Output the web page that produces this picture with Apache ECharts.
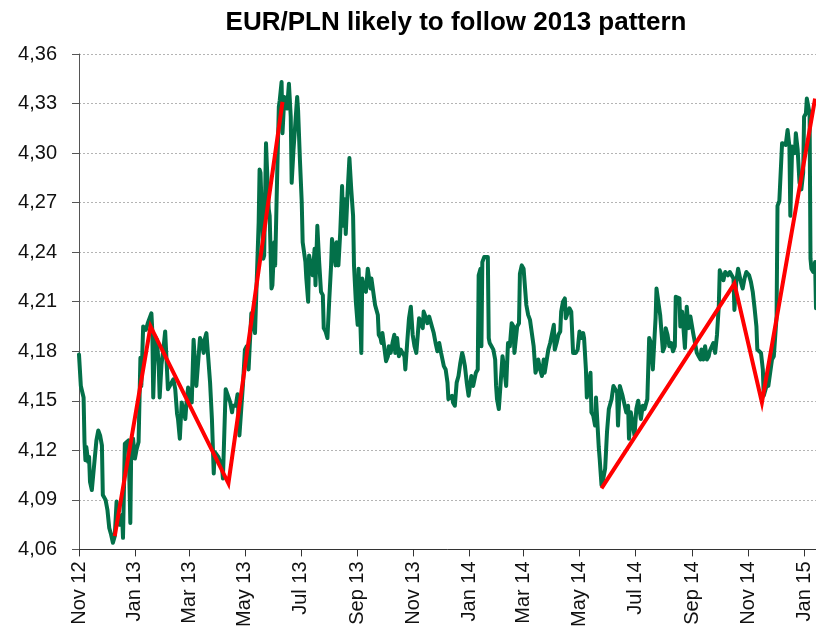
<!DOCTYPE html>
<html>
<head>
<meta charset="utf-8">
<script src="https://cdn.jsdelivr.net/npm/echarts@6/dist/echarts.min.js"></script>
<style>
  html, body { margin: 0; padding: 0; background: #fff; }
  #chart { width: 816px; height: 630px; }
</style>
</head>
<body>
<div id="chart"></div>
<script>
// EUR/PLN daily fixing, Nov 2012 - Jan 2015
const eurpln = [
  ['2012-11-01',4.178],['2012-11-03',4.159],['2012-11-06',4.152],['2012-11-07',4.125],['2012-11-08',4.114],
  ['2012-11-09',4.122],['2012-11-11',4.113],['2012-11-12',4.116],['2012-11-13',4.101],['2012-11-15',4.096],
  ['2012-11-17',4.108],['2012-11-19',4.107],['2012-11-20',4.126],['2012-11-22',4.132],['2012-11-24',4.129],
  ['2012-11-26',4.123],['2012-11-27',4.093],['2012-11-30',4.090],['2012-12-02',4.084],['2012-12-04',4.073],
  ['2012-12-06',4.069],['2012-12-08',4.064],['2012-12-10',4.068],['2012-12-12',4.089],['2012-12-13',4.089],
  ['2012-12-15',4.075],['2012-12-18',4.081],['2012-12-19',4.067],['2012-12-21',4.124],['2012-12-23',4.125],
  ['2012-12-25',4.126],['2012-12-27',4.076],['2012-12-28',4.122],['2012-12-30',4.127],
  ['2013-01-01',4.115],['2013-01-03',4.121],['2013-01-05',4.125],['2013-01-07',4.176],['2013-01-08',4.159],
  ['2013-01-10',4.195],['2013-01-11',4.194],['2013-01-13',4.193],['2013-01-15',4.197],['2013-01-16',4.198],
  ['2013-01-19',4.203],['2013-01-20',4.192],['2013-01-21',4.152],['2013-01-23',4.189],['2013-01-25',4.187],
  ['2013-01-27',4.171],['2013-01-28',4.152],['2013-01-30',4.172],['2013-02-01',4.181],['2013-02-03',4.192],
  ['2013-02-05',4.193],['2013-02-06',4.157],['2013-02-08',4.159],['2013-02-10',4.158],['2013-02-12',4.163],
  ['2013-02-14',4.157],['2013-02-16',4.142],['2013-02-17',4.139],['2013-02-19',4.127],['2013-02-21',4.149],
  ['2013-02-23',4.149],['2013-02-25',4.139],['2013-02-26',4.147],['2013-02-28',4.158],['2013-03-02',4.152],
  ['2013-03-04',4.149],['2013-03-06',4.187],['2013-03-08',4.187],['2013-03-09',4.159],['2013-03-11',4.158],
  ['2013-03-13',4.188],['2013-03-15',4.185],['2013-03-17',4.179],['2013-03-18',4.187],['2013-03-20',4.191],
  ['2013-03-22',4.191],['2013-03-24',4.161],['2013-03-26',4.139],['2013-03-28',4.106],['2013-03-29',4.119],
  ['2013-03-31',4.118],['2013-04-02',4.116],['2013-04-04',4.113],['2013-04-06',4.110],['2013-04-07',4.103],
  ['2013-04-09',4.102],['2013-04-10',4.157],['2013-04-12',4.158],['2013-04-15',4.149],['2013-04-17',4.143],
  ['2013-04-18',4.147],['2013-04-21',4.147],['2013-04-23',4.154],['2013-04-25',4.129],['2013-04-26',4.129],
  ['2013-04-29',4.161],['2013-05-01',4.181],['2013-05-03',4.183],['2013-05-05',4.169],['2013-05-07',4.168],
  ['2013-05-08',4.203],['2013-05-10',4.202],['2013-05-12',4.191],['2013-05-14',4.191],['2013-05-16',4.258],
  ['2013-05-17',4.290],['2013-05-18',4.288],['2013-05-20',4.254],['2013-05-21',4.236],['2013-05-22',4.238],
  ['2013-05-24',4.306],['2013-05-25',4.292],['2013-05-27',4.266],['2013-05-28',4.262],['2013-05-30',4.218],
  ['2013-05-31',4.220],['2013-06-02',4.246],['2013-06-03',4.232],['2013-06-05',4.282],['2013-06-07',4.328],
  ['2013-06-08',4.332],['2013-06-10',4.343],['2013-06-11',4.312],['2013-06-13',4.334],['2013-06-14',4.333],
  ['2013-06-16',4.327],['2013-06-17',4.326],['2013-06-18',4.342],['2013-06-20',4.322],['2013-06-21',4.282],
  ['2013-06-23',4.302],['2013-06-25',4.318],['2013-06-27',4.334],['2013-06-28',4.326],['2013-06-30',4.296],
  ['2013-07-02',4.270],['2013-07-03',4.246],['2013-07-05',4.245],['2013-07-06',4.234],['2013-07-07',4.224],
  ['2013-07-09',4.210],['2013-07-10',4.238],['2013-07-12',4.238],['2013-07-14',4.226],['2013-07-16',4.242],
  ['2013-07-17',4.220],['2013-07-19',4.256],['2013-07-21',4.234],['2013-07-23',4.216],['2013-07-25',4.214],
  ['2013-07-26',4.194],['2013-07-28',4.192],['2013-07-30',4.188],['2013-08-01',4.211],['2013-08-03',4.232],
  ['2013-08-04',4.248],['2013-08-06',4.247],['2013-08-08',4.232],['2013-08-09',4.246],['2013-08-11',4.232],
  ['2013-08-13',4.252],['2013-08-15',4.280],['2013-08-16',4.256],['2013-08-18',4.272],['2013-08-19',4.251],
  ['2013-08-21',4.276],['2013-08-23',4.297],['2013-08-25',4.278],['2013-08-27',4.262],['2013-08-28',4.232],
  ['2013-08-30',4.210],['2013-09-01',4.196],['2013-09-02',4.230],['2013-09-04',4.230],['2013-09-05',4.179],
  ['2013-09-06',4.224],['2013-09-08',4.218],['2013-09-10',4.216],['2013-09-12',4.230],['2013-09-13',4.231],
  ['2013-09-15',4.218],['2013-09-16',4.224],['2013-09-18',4.223],['2013-09-20',4.208],['2013-09-22',4.208],
  ['2013-09-23',4.202],['2013-09-24',4.190],['2013-09-26',4.188],['2013-09-27',4.185],['2013-09-28',4.191],
  ['2013-09-30',4.191],['2013-10-02',4.174],['2013-10-04',4.177],['2013-10-05',4.183],['2013-10-07',4.179],
  ['2013-10-09',4.185],['2013-10-11',4.190],['2013-10-12',4.179],['2013-10-14',4.188],['2013-10-15',4.188],
  ['2013-10-16',4.177],['2013-10-18',4.181],['2013-10-20',4.181],['2013-10-22',4.177],['2013-10-23',4.169],
  ['2013-10-25',4.185],['2013-10-27',4.200],['2013-10-29',4.207],['2013-10-31',4.190],['2013-11-02',4.183],
  ['2013-11-04',4.179],['2013-11-05',4.178],['2013-11-07',4.200],['2013-11-09',4.200],['2013-11-11',4.194],
  ['2013-11-12',4.204],['2013-11-14',4.201],['2013-11-16',4.197],['2013-11-18',4.201],['2013-11-20',4.201],
  ['2013-11-21',4.195],['2013-11-23',4.191],['2013-11-25',4.185],['2013-11-27',4.180],['2013-11-29',4.185],
  ['2013-12-01',4.179],['2013-12-02',4.180],['2013-12-04',4.171],['2013-12-06',4.169],['2013-12-08',4.161],
  ['2013-12-09',4.151],['2013-12-11',4.151],['2013-12-13',4.153],['2013-12-14',4.149],['2013-12-16',4.147],
  ['2013-12-18',4.161],['2013-12-20',4.165],['2013-12-22',4.173],['2013-12-24',4.179],['2013-12-25',4.177],
  ['2013-12-27',4.171],['2013-12-29',4.161],['2013-12-31',4.153],
  ['2014-01-02',4.152],['2014-01-03',4.165],['2014-01-05',4.159],['2014-01-06',4.159],['2014-01-08',4.167],
  ['2014-01-10',4.169],['2014-01-11',4.226],['2014-01-13',4.230],['2014-01-14',4.183],['2014-01-15',4.234],
  ['2014-01-17',4.237],['2014-01-19',4.238],['2014-01-21',4.237],['2014-01-22',4.188],['2014-01-23',4.185],
  ['2014-01-25',4.183],['2014-01-27',4.181],['2014-01-29',4.175],['2014-01-30',4.159],['2014-01-31',4.151],
  ['2014-02-02',4.145],['2014-02-04',4.161],['2014-02-06',4.177],['2014-02-08',4.169],['2014-02-10',4.159],
  ['2014-02-11',4.159],['2014-02-12',4.185],['2014-02-14',4.183],['2014-02-16',4.197],['2014-02-18',4.195],
  ['2014-02-19',4.179],['2014-02-21',4.179],['2014-02-22',4.195],['2014-02-24',4.197],['2014-02-25',4.227],
  ['2014-02-27',4.232],['2014-03-01',4.230],['2014-03-03',4.230],['2014-03-04',4.208],['2014-03-06',4.202],
  ['2014-03-08',4.199],['2014-03-10',4.199],['2014-03-12',4.183],['2014-03-14',4.167],['2014-03-15',4.169],
  ['2014-03-17',4.175],['2014-03-19',4.169],['2014-03-21',4.165],['2014-03-23',4.175],['2014-03-24',4.167],
  ['2014-03-26',4.167],['2014-03-28',4.181],['2014-03-30',4.185],['2014-04-01',4.185],['2014-04-03',4.196],
  ['2014-04-04',4.181],['2014-04-06',4.185],['2014-04-08',4.190],['2014-04-10',4.192],['2014-04-11',4.204],
  ['2014-04-13',4.210],['2014-04-15',4.212],['2014-04-16',4.200],['2014-04-18',4.200],['2014-04-20',4.206],
  ['2014-04-22',4.204],['2014-04-24',4.179],['2014-04-25',4.179],['2014-04-27',4.179],['2014-04-29',4.181],
  ['2014-05-01',4.192],['2014-05-03',4.188],['2014-05-05',4.191],['2014-05-06',4.188],['2014-05-08',4.169],
  ['2014-05-09',4.152],['2014-05-11',4.152],['2014-05-13',4.167],['2014-05-14',4.143],['2014-05-16',4.141],
  ['2014-05-18',4.135],['2014-05-19',4.152],['2014-05-21',4.152],['2014-05-22',4.122],['2014-05-23',4.115],
  ['2014-05-25',4.099],['2014-05-27',4.103],['2014-05-29',4.109],['2014-05-31',4.131],['2014-06-02',4.145],
  ['2014-06-03',4.147],['2014-06-05',4.151],['2014-06-07',4.159],['2014-06-09',4.159],['2014-06-11',4.155],
  ['2014-06-12',4.135],['2014-06-14',4.159],['2014-06-15',4.160],['2014-06-17',4.153],['2014-06-19',4.153],
  ['2014-06-21',4.143],['2014-06-23',4.147],['2014-06-24',4.127],['2014-06-26',4.143],['2014-06-28',4.142],
  ['2014-06-30',4.129],['2014-07-02',4.145],['2014-07-04',4.150],['2014-07-05',4.151],['2014-07-07',4.139],
  ['2014-07-09',4.147],['2014-07-11',4.145],['2014-07-13',4.146],['2014-07-14',4.151],['2014-07-16',4.188],
  ['2014-07-18',4.185],['2014-07-20',4.169],['2014-07-22',4.190],['2014-07-23',4.200],['2014-07-24',4.218],
  ['2014-07-26',4.218],['2014-07-28',4.202],['2014-07-30',4.202],['2014-07-31',4.180],['2014-08-02',4.183],
  ['2014-08-03',4.194],['2014-08-05',4.190],['2014-08-07',4.183],['2014-08-09',4.185],['2014-08-11',4.180],
  ['2014-08-13',4.183],['2014-08-14',4.213],['2014-08-16',4.212],['2014-08-18',4.212],['2014-08-19',4.195],
  ['2014-08-21',4.204],['2014-08-22',4.197],['2014-08-24',4.182],['2014-08-26',4.207],['2014-08-28',4.194],
  ['2014-08-30',4.201],['2014-08-31',4.201],['2014-09-02',4.191],['2014-09-04',4.185],['2014-09-06',4.179],
  ['2014-09-08',4.177],['2014-09-10',4.175],['2014-09-11',4.181],['2014-09-13',4.175],['2014-09-15',4.183],
  ['2014-09-17',4.175],['2014-09-19',4.177],['2014-09-20',4.180],['2014-09-22',4.179],['2014-09-24',4.185],
  ['2014-09-26',4.179],['2014-09-28',4.190],['2014-09-30',4.208],['2014-10-01',4.229],['2014-10-03',4.228],
  ['2014-10-05',4.223],['2014-10-07',4.228],['2014-10-09',4.227],['2014-10-10',4.226],['2014-10-12',4.228],
  ['2014-10-14',4.226],['2014-10-16',4.224],['2014-10-17',4.205],['2014-10-19',4.222],['2014-10-21',4.230],
  ['2014-10-22',4.230],['2014-10-24',4.222],['2014-10-26',4.218],['2014-10-28',4.224],['2014-10-30',4.228],
  ['2014-11-01',4.228],['2014-11-02',4.226],['2014-11-04',4.222],['2014-11-06',4.216],['2014-11-08',4.206],
  ['2014-11-10',4.195],['2014-11-11',4.181],['2014-11-13',4.180],['2014-11-15',4.179],['2014-11-17',4.169],
  ['2014-11-18',4.153],['2014-11-20',4.153],['2014-11-22',4.161],['2014-11-23',4.159],['2014-11-25',4.159],
  ['2014-11-27',4.175],['2014-11-29',4.177],['2014-12-01',4.177],['2014-12-02',4.201],['2014-12-03',4.268],
  ['2014-12-05',4.271],['2014-12-07',4.271],['2014-12-08',4.306],['2014-12-10',4.305],['2014-12-12',4.305],
  ['2014-12-14',4.314],['2014-12-16',4.304],['2014-12-17',4.262],['2014-12-19',4.304],['2014-12-20',4.302],
  ['2014-12-22',4.300],['2014-12-23',4.312],['2014-12-25',4.302],['2014-12-27',4.282],['2014-12-29',4.278],
  ['2014-12-31',4.288],
  ['2015-01-01',4.322],['2015-01-03',4.324],['2015-01-04',4.333],['2015-01-06',4.334],['2015-01-07',4.324],
  ['2015-01-08',4.236],['2015-01-09',4.230],['2015-01-11',4.228],['2015-01-13',4.234],['2015-01-14',4.206]
];

// Trend legs: the 2013 swing and its 2014 repeat
const pattern2013 = [['2012-12-10',4.068],['2013-01-18',4.195],['2013-04-13',4.100],['2013-06-11',4.331]];
const pattern2014 = [['2014-05-25',4.097],['2014-10-17',4.221],['2014-11-16',4.149],['2015-01-13',4.333]];

// Two-monthly date ticks and their labels
const tickDates = ['2012-11-01','2013-01-01','2013-03-01','2013-05-01','2013-07-01','2013-09-01','2013-11-01',
  '2014-01-01','2014-03-01','2014-05-01','2014-07-01','2014-09-01','2014-11-01','2015-01-01'];
const tickLabels = ['Nov 12','Jan 13','Mar 13','May 13','Jul 13','Sep 13','Nov 13',
  'Jan 14','Mar 14','May 14','Jul 14','Sep 14','Nov 14','Jan 15'];

const axisStart = '2012-11-01';
const axisEnd = '2015-01-14';

// Dates are placed on a linear day scale (UTC midnight timestamps)
function dayStamp(s) {
  const p = s.split('-').map(Number);
  return Date.UTC(p[0], p[1] - 1, p[2]);
}
const toPoints = arr => arr.map(d => [dayStamp(d[0]), d[1]]);
const tickStamps = tickDates.map(dayStamp);

const chart = echarts.init(document.getElementById('chart'), null, { renderer: 'canvas' });
chart.setOption({
  animation: false,
  backgroundColor: '#ffffff',
  title: {
    text: 'EUR/PLN likely to follow 2013 pattern',
    left: 451,
    top: 5,
    textAlign: 'center',
    textStyle: { fontFamily: 'Liberation Sans, Arial, sans-serif', fontSize: 26, fontWeight: 'bold', color: '#000' }
  },
  grid: { left: 79, right: 0, top: 54, bottom: 78, containLabel: false },
  xAxis: {
    type: 'value',
    min: dayStamp(axisStart),
    max: dayStamp(axisEnd),
    axisLine: { show: true, onZero: false, lineStyle: { color: '#333', width: 1 } },
    axisTick: { show: true, length: 7, inside: false, customValues: tickStamps, lineStyle: { color: '#333' } },
    axisLabel: {
      customValues: tickStamps,
      rotate: 90,
      margin: 12,
      fontFamily: 'Liberation Sans, Arial, sans-serif',
      fontSize: 20,
      color: '#111',
      formatter: v => {
        const i = tickStamps.indexOf(v);
        return i >= 0 ? tickLabels[i] : '';
      }
    },
    splitLine: { show: false }
  },
  yAxis: {
    type: 'value',
    min: 4.06,
    max: 4.36,
    interval: 0.03,
    axisLine: { show: true, lineStyle: { color: '#555', width: 1 } },
    axisTick: { show: true, length: 7, inside: false, lineStyle: { color: '#555' } },
    axisLabel: {
      margin: 22,
      fontFamily: 'Liberation Sans, Arial, sans-serif',
      fontSize: 20,
      color: '#111',
      formatter: v => v.toFixed(2).replace('.', ',')
    },
    splitLine: { show: true, lineStyle: { color: '#b4b4b4', type: [2, 2], width: 1 } }
  },
  series: [
    {
      name: 'EUR/PLN',
      type: 'line',
      data: toPoints(eurpln),
      showSymbol: false,
      symbol: 'none',
      lineStyle: { color: '#037049', width: 4, cap: 'round', join: 'round' },
      z: 2
    },
    {
      name: '2013 pattern',
      type: 'line',
      data: toPoints(pattern2013),
      symbol: 'none',
      lineStyle: { color: '#ff0000', width: 4, cap: 'butt', join: 'miter' },
      z: 3
    },
    {
      name: '2014 pattern',
      type: 'line',
      data: toPoints(pattern2014),
      symbol: 'none',
      lineStyle: { color: '#ff0000', width: 4, cap: 'butt', join: 'miter' },
      z: 3
    }
  ]
});
</script>
</body>
</html>
